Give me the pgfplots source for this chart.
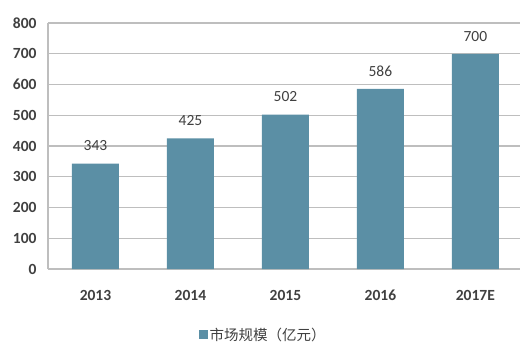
\documentclass[border=0pt]{standalone}
\usepackage{pgfplots}
\pgfplotsset{compat=1.18}
\usepackage{fontspec}
\setmainfont{Carlito}
\newfontfamily\cjk{Noto Sans CJK SC}
\definecolor{barc}{RGB}{91,143,165}
\definecolor{gridc}{RGB}{190,190,190}
\definecolor{txt}{RGB}{64,64,64}
\begin{document}
\begin{tikzpicture}
\begin{axis}[
  scale only axis,
  width=472pt, height=246pt,
  xmin=-0.5, xmax=4.47,
  ymin=0, ymax=800,
  ytick={0,100,...,800},
  xtick=data,
  xticklabels={2013,2014,2015,2016,2017E},
  axis x line*=bottom, axis y line*=left,
  axis line style={gridc, line width=1.6pt, -},
  ymajorgrids,
  grid style={gridc, line width=1.3pt},
  major tick length=0pt,
  tick label style={font=\fontsize{15.5}{18}\selectfont\bfseries, text=txt},
  yticklabel style={xshift=-8pt},
  xticklabel style={anchor=base, yshift=-31pt},
  /pgf/number format/assume math mode=true,
  /pgf/number format/1000 sep={},
  ybar, bar width=47pt,
  nodes near coords,
  every node near coord/.append style={font=\fontsize{15.5}{18}\selectfont, text=txt, yshift=9pt},
  legend style={at={(0.456,-0.268)}, anchor=center, draw=none, fill=none,
    font=\fontsize{14.5}{17}\selectfont\cjk, text=txt},
  legend image code/.code={\fill[barc] (0pt,-4.5pt) rectangle (9pt,4.5pt);},
  clip=false,
]
\addplot[fill=barc, draw=none] coordinates {(0,343) (1,425) (2,502) (3,586) (4,700)};
\addlegendentry{市场规模（亿元）}
\end{axis}
\pgfresetboundingbox
\path ([xshift=-48pt,yshift=-87pt]current axis.south west) rectangle ([xshift=0pt,yshift=23pt]current axis.north east);
\end{tikzpicture}
\end{document}
